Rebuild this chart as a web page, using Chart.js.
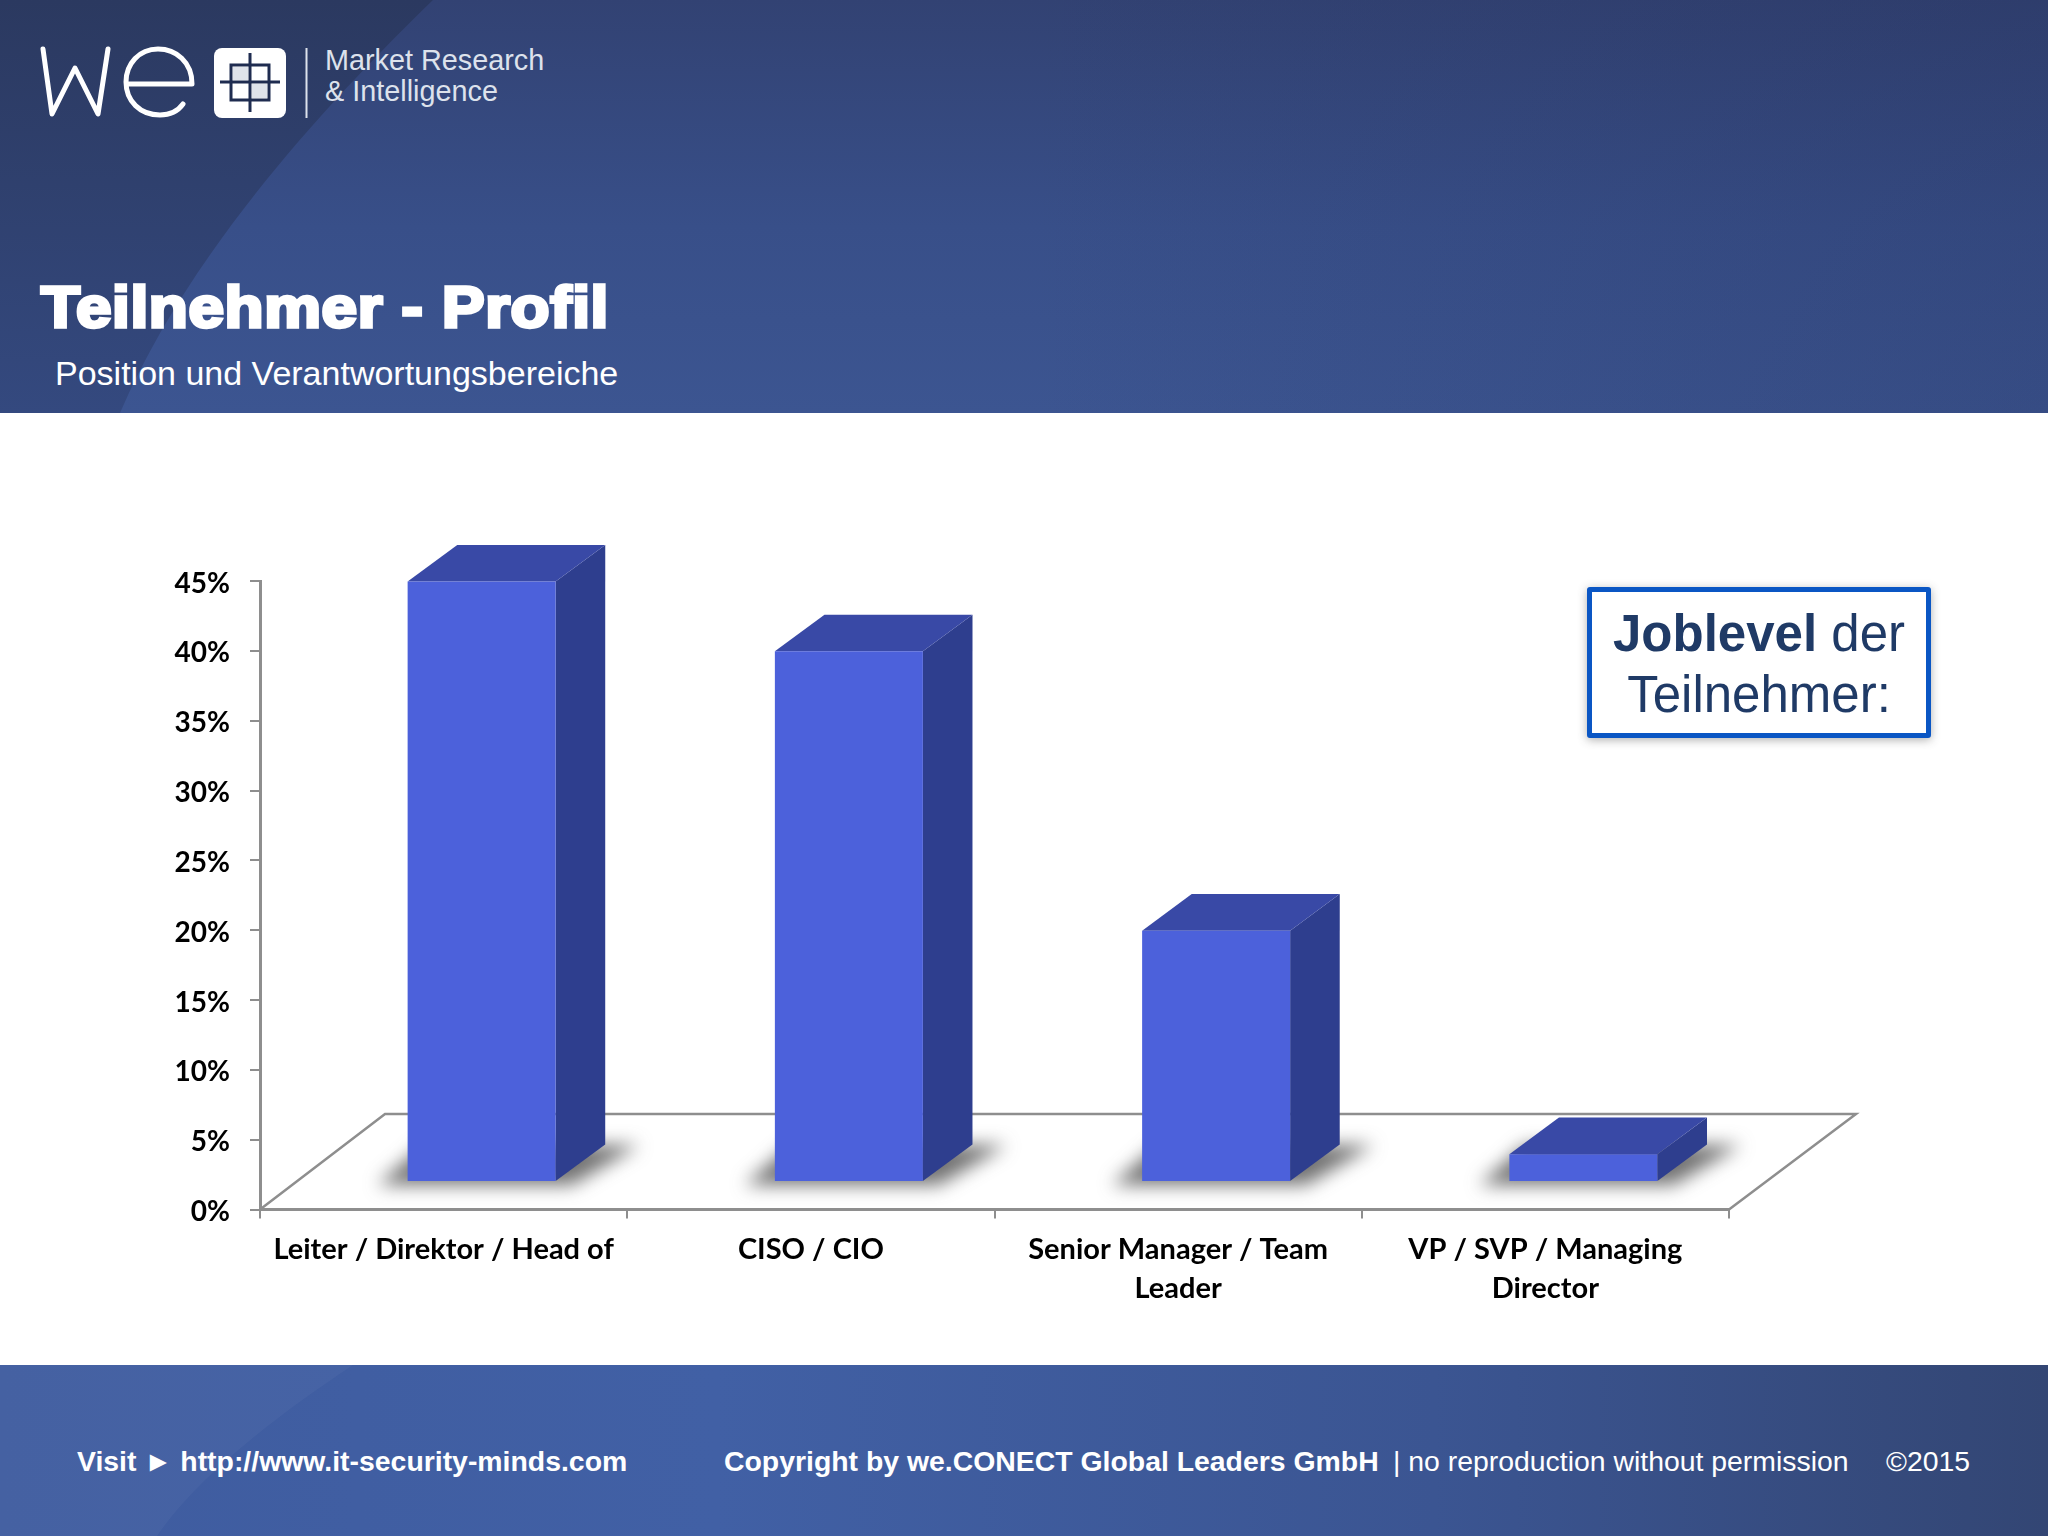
<!DOCTYPE html>
<html>
<head>
<meta charset="utf-8">
<title>Teilnehmer - Profil</title>
<script src="https://cdn.jsdelivr.net/npm/chart.js@4"></script>
<style>
  html, body { margin: 0; padding: 0; background: #fff; }
  #page { position: relative; width: 2048px; height: 1536px; overflow: hidden; font-family: "Liberation Sans", Arial, sans-serif; }
  #bg { position: absolute; left: 0; top: 0; }
  #chart { position: absolute; left: 0; top: 413px; }
  .t { position: absolute; white-space: nowrap; color: #fff; line-height: 1; }
  #title { left: 41px; top: 278px; font-size: 58px; font-weight: 700; -webkit-text-stroke: 3.4px #fff; letter-spacing: 0.6px; transform: scaleX(1.1); transform-origin: left center; }
  #sub { left: 55px; top: 356px; font-size: 34px; }
  .logo { left: 325px; font-size: 28.8px; color: #dde2ec; }
  .foot { top: 1447px; font-size: 28.4px; }
  #callout { position: absolute; left: 1587px; top: 587px; width: 334px; height: 130px; border: 5px solid #0a56c4; border-radius: 3px; background: #fff;
    box-shadow: 0 2px 10px rgba(80,80,80,.45); color: #1f3a66; font-size: 51px; line-height: 61px; text-align: center; padding-top: 11px; }
</style>
</head>
<body>
<div id="page">
  <svg id="bg" width="2048" height="1536" xmlns="http://www.w3.org/2000/svg">
    <defs>
      <linearGradient id="hd" x1="0" y1="0" x2="0" y2="1">
        <stop offset="0" stop-color="#324273"/>
        <stop offset="0.55" stop-color="#384f89"/>
        <stop offset="1" stop-color="#3c5591"/>
      </linearGradient>
      <linearGradient id="hdr" x1="0" y1="0" x2="1" y2="0">
        <stop offset="0.5" stop-color="#1e2850" stop-opacity="0"/>
        <stop offset="1" stop-color="#1e2850" stop-opacity="0.2"/>
      </linearGradient>
      <linearGradient id="hdl" x1="0" y1="0" x2="0" y2="1">
        <stop offset="0" stop-color="#2b3960"/>
        <stop offset="1" stop-color="#34497f"/>
      </linearGradient>
      <linearGradient id="ft" x1="0" y1="0" x2="1" y2="0">
        <stop offset="0" stop-color="#3f5c9f"/>
        <stop offset="0.35" stop-color="#4160a5"/>
        <stop offset="0.7" stop-color="#3b5592"/>
        <stop offset="1" stop-color="#334674"/>
      </linearGradient>
    </defs>
    <rect x="0" y="0" width="2048" height="413" fill="url(#hd)"/>
    <rect x="0" y="0" width="2048" height="413" fill="url(#hdr)"/>
    <path d="M0,0 H433 C330,100 190,250 120,413 H0 Z" fill="url(#hdl)"/>
    <rect x="0" y="1365" width="2048" height="171" fill="url(#ft)"/>
    <path d="M0,1365 H353 C270,1420 195,1480 157,1536 H0 Z" fill="#fff" fill-opacity="0.035"/>
    <g fill="none" stroke="#fff" stroke-width="5" stroke-linejoin="round" stroke-linecap="round">
      <path d="M43,49 L52,114 L75,68 L98,114 L108,49"/>
      <path d="M127,84 L192,84 C192,62 176,49 158,49 C139,49 126,64 126,82 C126,101 140,115 160,115 C170,115 178,111 183,104"/>
    </g>
    <rect x="214" y="48" width="72" height="70" rx="8" fill="#fff"/>
    <g fill="#dfe3ea">
      <rect x="233" y="67" width="15" height="13"/>
      <rect x="252" y="84" width="15" height="14"/>
    </g>
    <g stroke="#1f2c50" stroke-width="3" fill="none">
      <rect x="231" y="65" width="38" height="35"/>
      <path d="M250,53 V112 M220,82 H280"/>
    </g>
    <path d="M306.5,48 V118" stroke="#dde2ec" stroke-width="2"/>
  </svg>

  <div class="t logo" style="top:46px">Market Research</div>
  <div class="t logo" style="top:77px">&amp; Intelligence</div>
  <div class="t" id="title">Teilnehmer - Profil</div>
  <div class="t" id="sub">Position und Verantwortungsbereiche</div>

  <canvas id="chart" width="2048" height="952"></canvas>

  <div id="callout"><b>Joblevel</b> der<br>Teilnehmer:</div>

  <div class="t foot" style="left:77px"><b>Visit ► http://www.it-security-minds.com</b></div>
  <div class="t foot" style="left:724px"><b>Copyright by we.CONECT Global Leaders GmbH</b></div>
  <div class="t foot" style="left:1393px">| no reproduction without permission</div>
  <div class="t foot" style="left:1886px">©2015</div>
</div>

<script>
const categories = [
    'Leiter / Direktor / Head of',
    'CISO / CIO',
    ['Senior Manager / Team', 'Leader'],
    ['VP / SVP / Managing', 'Director'],
];
const shares = [43, 38, 18, 2];
const axisMax = 45;
const axisStep = 5;

const AXIS_GREY = '#8e8e8e';
const FLOOR_DX = 125, FLOOR_DY = 95.5;   // depth of the floor
const BAR_DX = 38, BAR_DY = 27.4;        // bars stand this far in on the floor
const FACE_DX = 49.6, FACE_DY = 36.6;    // depth of one bar

function poly(ctx, pts, fill) {
    ctx.beginPath();
    pts.forEach((p, i) => i ? ctx.lineTo(p[0], p[1]) : ctx.moveTo(p[0], p[1]));
    ctx.closePath();
    ctx.fillStyle = fill;
    ctx.fill();
}

const box3d = {
    id: 'box3d',
    beforeDatasetsDraw(chart) {
        const ctx = chart.ctx;
        const { left, right, bottom } = chart.chartArea;

        // floor outline
        ctx.save();
        ctx.strokeStyle = AXIS_GREY;
        ctx.lineWidth = 2.5;
        ctx.beginPath();
        ctx.moveTo(left, bottom);
        ctx.lineTo(left + FLOOR_DX, bottom - FLOOR_DY);
        ctx.lineTo(right + FLOOR_DX + 2, bottom - FLOOR_DY);
        ctx.lineTo(right, bottom);
        ctx.stroke();
        ctx.restore();

        const bars = chart.getDatasetMeta(0).data;

        // soft shadow on the floor
        ctx.save();
        ctx.translate(BAR_DX, -BAR_DY);
        ctx.filter = 'blur(9px)';
        bars.forEach(b => {
            const x0 = b.x - b.width / 2, x1 = b.x + b.width / 2;
            poly(ctx, [
                [x0 - 30, b.base + 4],
                [x0 + 16, b.base - 36],
                [x1 + FACE_DX + 34, b.base - 36],
                [x1 + 16, b.base + 4],
            ], 'rgba(60,60,60,.72)');
        });
        ctx.restore();

        // side and top faces
        ctx.save();
        ctx.translate(BAR_DX, -BAR_DY);
        bars.forEach(b => {
            const x0 = b.x - b.width / 2, x1 = b.x + b.width / 2;
            poly(ctx, [[x1, b.y], [x1 + FACE_DX, b.y - FACE_DY], [x1 + FACE_DX, b.base - FACE_DY], [x1, b.base]], '#2e3e8e');
            poly(ctx, [[x0, b.y], [x0 + FACE_DX, b.y - FACE_DY], [x1 + FACE_DX, b.y - FACE_DY], [x1, b.y]], '#3949a6');
        });
        ctx.restore();

        // the library draws the front faces inside this shift
        ctx.save();
        ctx.translate(BAR_DX, -BAR_DY);
    },
    afterDatasetsDraw(chart) {
        chart.ctx.restore();
    },
};

const chart = new Chart(document.getElementById('chart'), {
    type: 'bar',
    data: {
        labels: categories,
        datasets: [{
            data: shares,
            backgroundColor: '#4c61db',
            barPercentage: 0.403,
            categoryPercentage: 1,
            clip: false,
        }],
    },
    options: {
        responsive: false,
        animation: false,
        devicePixelRatio: 1,
        layout: { padding: { left: 0, right: 319, top: 168, bottom: 0 } },
        plugins: { legend: { display: false }, tooltip: { enabled: false } },
        scales: {
            x: {
                afterFit: s => { s.height = 155.5; },
                border: { color: AXIS_GREY, width: 3 },
                grid: { drawOnChartArea: false, color: AXIS_GREY, lineWidth: 2, tickLength: 9 },
                ticks: {
                    color: '#000',
                    padding: 12,
                    maxRotation: 0,
                    autoSkip: false,
                    font: { family: 'Lato', size: 29, weight: '700', lineHeight: 1.33 },
                },
            },
            y: {
                min: 0,
                max: axisMax,
                afterFit: s => { s.width = 260; },
                border: { color: AXIS_GREY, width: 3 },
                grid: { drawOnChartArea: false, color: AXIS_GREY, lineWidth: 2, tickLength: 10 },
                ticks: {
                    stepSize: axisStep,
                    color: '#000',
                    padding: 20,
                    font: { family: 'Lato', size: 28, weight: '700' },
                    callback: v => v + '%',
                },
            },
        },
    },
    plugins: [box3d],
});

// Lato sits a little high against the ticks
const yScale = chart.scales.y;
const drawLabels = yScale.drawLabels;
yScale.drawLabels = function (area) {
    yScale.ctx.save();
    yScale.ctx.translate(0, 2.5);
    drawLabels.call(yScale, area);
    yScale.ctx.restore();
};
chart.draw();
</script>
</body>
</html>
